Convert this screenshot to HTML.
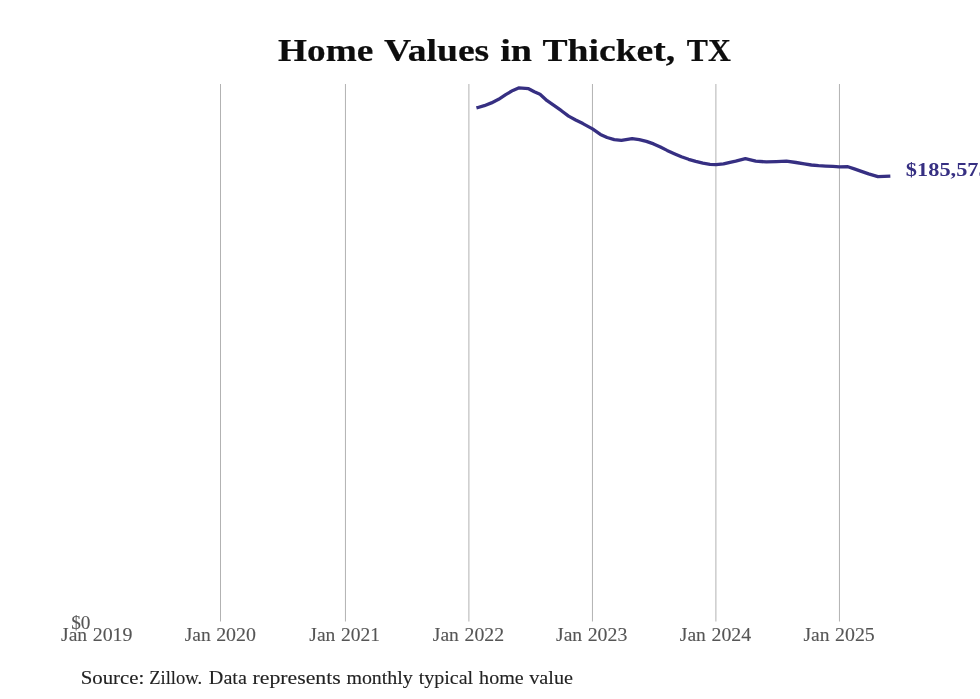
<!DOCTYPE html>
<html>
<head>
<meta charset="utf-8">
<title>Home Values in Thicket, TX</title>
<style>
  html, body { margin: 0; padding: 0; background: #ffffff; }
  body { width: 980px; height: 699px; overflow: hidden; }
  svg { display: block; will-change: transform; }
  text { font-family: "Liberation Serif", serif; }
  .title { font-weight: bold; font-size: 32.2px; fill: #0d0d0d; stroke: #0d0d0d; stroke-width: 0.2px; }
  .tick { font-size: 17.8px; fill: #555555; stroke: #555555; stroke-width: 0.1px; }
  .src { font-size: 18.2px; fill: #222222; stroke: #222222; stroke-width: 0.1px; }
  .val { font-weight: bold; font-size: 18.3px; fill: #362f82; }
  .grid line { stroke: #b2b2b2; stroke-width: 1; }
  .series { fill: none; stroke: #362f82; stroke-width: 3.3; stroke-linejoin: round; stroke-linecap: square; }
</style>
</head>
<body>
<svg width="980" height="699" viewBox="0 0 980 699">
  <rect x="0" y="0" width="980" height="699" fill="#ffffff"/>
  <text class="title" y="60.5"><tspan x="277.99" textLength="95.27" lengthAdjust="spacingAndGlyphs">Home</tspan> <tspan x="384.1" textLength="105.16" lengthAdjust="spacingAndGlyphs">Values</tspan> <tspan x="500.22" textLength="31.8" lengthAdjust="spacingAndGlyphs">in</tspan> <tspan x="542.49" textLength="132.77" lengthAdjust="spacingAndGlyphs">Thicket,</tspan> <tspan x="686.75" textLength="44.01" lengthAdjust="spacingAndGlyphs">TX</tspan></text>
  <g class="grid">
    <line x1="220.5" y1="84" x2="220.5" y2="621.5"/>
    <line x1="345.45" y1="84" x2="345.45" y2="621.5"/>
    <line x1="468.9" y1="84" x2="468.9" y2="621.5"/>
    <line x1="592.45" y1="84" x2="592.45" y2="621.5"/>
    <line x1="715.9" y1="84" x2="715.9" y2="621.5"/>
    <line x1="839.45" y1="84" x2="839.45" y2="621.5"/>
  </g>
  <polyline class="series" points="478,107.5 484.3,105.7 491.4,102.9 498.6,99.3 505.7,94.6 512.9,90.4 518.6,87.9 528.6,88.7 534.3,91.8 540,94.3 547.1,100.7 554.3,105.7 561.4,110.7 568.6,116.1 575.7,120 582.9,123.6 592.5,128.9 600.4,134.4 607.1,137.5 614.3,139.6 621.4,140.4 632.1,138.6 639.3,139.6 646.4,141.4 653.6,143.9 660.4,147 667.1,150.4 674.3,153.7 681.4,156.8 688.6,159.3 695.7,161.4 702.9,163.2 710,164.3 716.1,164.6 723.5,163.9 730,162.3 735.7,161.1 745.4,158.7 755.7,161.1 766.4,161.9 776.4,161.6 786.4,161.1 796,162.5 804.3,163.9 811.4,165 818.6,165.7 825.7,166.1 832.9,166.4 839.3,166.8 847.9,166.7 854.3,168.9 861.4,171.4 868.6,173.9 877.9,176.6 884.3,176.3 888.7,176.1"/>
  <text class="val" y="176.2"><tspan x="905.88" textLength="83.79" lengthAdjust="spacingAndGlyphs">$185,575</tspan></text>
  <text class="tick" y="629.2"><tspan x="71.18" textLength="19.28" lengthAdjust="spacingAndGlyphs">$0</tspan></text>
  <text class="tick" y="640.5"><tspan x="61.05" textLength="26.03" lengthAdjust="spacingAndGlyphs">Jan</tspan> <tspan x="92.7" textLength="39.82" lengthAdjust="spacingAndGlyphs">2019</tspan></text>
  <text class="tick" y="640.5"><tspan x="184.76" textLength="26.02" lengthAdjust="spacingAndGlyphs">Jan</tspan> <tspan x="216.16" textLength="39.81" lengthAdjust="spacingAndGlyphs">2020</tspan></text>
  <text class="tick" y="640.5"><tspan x="309.35" textLength="26.03" lengthAdjust="spacingAndGlyphs">Jan</tspan> <tspan x="341" textLength="39.01" lengthAdjust="spacingAndGlyphs">2021</tspan></text>
  <text class="tick" y="640.5"><tspan x="432.85" textLength="26.03" lengthAdjust="spacingAndGlyphs">Jan</tspan> <tspan x="464.5" textLength="39.6" lengthAdjust="spacingAndGlyphs">2022</tspan></text>
  <text class="tick" y="640.5"><tspan x="556.05" textLength="26.03" lengthAdjust="spacingAndGlyphs">Jan</tspan> <tspan x="587.7" textLength="39.62" lengthAdjust="spacingAndGlyphs">2023</tspan></text>
  <text class="tick" y="640.5"><tspan x="679.85" textLength="26.03" lengthAdjust="spacingAndGlyphs">Jan</tspan> <tspan x="711.51" textLength="39.68" lengthAdjust="spacingAndGlyphs">2024</tspan></text>
  <text class="tick" y="640.5"><tspan x="803.45" textLength="26.03" lengthAdjust="spacingAndGlyphs">Jan</tspan> <tspan x="835.11" textLength="39.68" lengthAdjust="spacingAndGlyphs">2025</tspan></text>
  <text class="src" y="683.5"><tspan x="80.69" textLength="63.67" lengthAdjust="spacingAndGlyphs">Source:</tspan> <tspan x="149.22" textLength="52.83" lengthAdjust="spacingAndGlyphs">Zillow.</tspan> <tspan x="208.84" textLength="38.06" lengthAdjust="spacingAndGlyphs">Data</tspan> <tspan x="252.55" textLength="88.21" lengthAdjust="spacingAndGlyphs">represents</tspan> <tspan x="346.4" textLength="66.45" lengthAdjust="spacingAndGlyphs">monthly</tspan> <tspan x="418.65" textLength="54.45" lengthAdjust="spacingAndGlyphs">typical</tspan> <tspan x="479.1" textLength="44.62" lengthAdjust="spacingAndGlyphs">home</tspan> <tspan x="529.2" textLength="43.81" lengthAdjust="spacingAndGlyphs">value</tspan></text>
</svg>
</body>
</html>
